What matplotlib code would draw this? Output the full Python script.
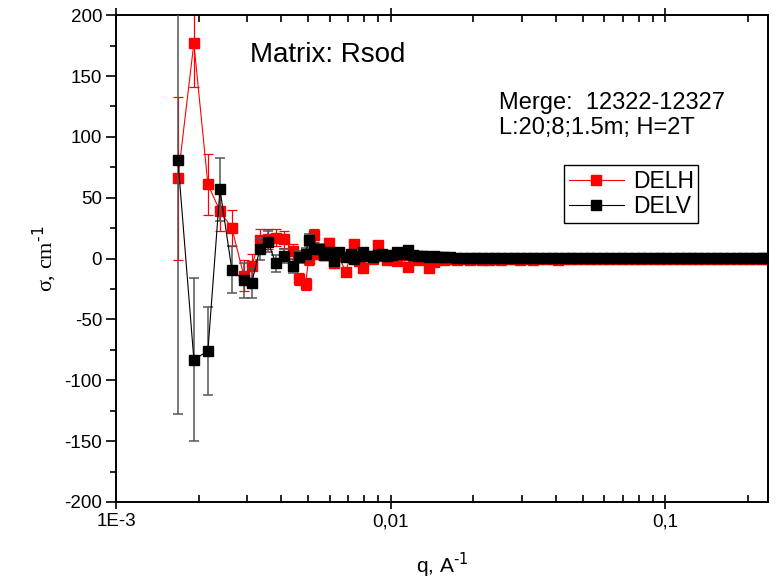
import numpy as np
import matplotlib
matplotlib.use("Agg")
import matplotlib.pyplot as plt
from matplotlib.lines import Line2D
from matplotlib.ticker import FixedLocator, FixedFormatter, MultipleLocator, LogLocator, NullFormatter

plt.rcParams['font.family'] = ['Liberation Sans', 'DejaVu Sans']
plt.rcParams['axes.unicode_minus'] = False

# q in 1/A
q = np.array([
    1.68, 1.92, 2.16, 2.39, 2.64, 2.92, 3.12, 3.34, 3.57, 3.82,
    4.08, 4.40, 4.65, 4.90, 5.03, 5.25, 5.47, 5.71, 5.95, 6.21,
    6.47, 6.86, 7.15, 7.33, 7.65, 7.91, 8.25, 8.60, 8.97, 9.27,
    9.67, 10.09, 10.52, 10.97, 11.53, 12.03, 12.54, 13.07, 13.74, 14.33,
    14.95, 15.71, 16.52, 17.4, 18.4, 19.4, 20.5, 21.6, 22.8, 24.0,
    25.3, 26.7, 28.2, 29.7, 31.3, 33.0, 34.8, 36.7, 38.7, 40.8,
    43.0, 45.4, 47.9, 50.5, 53.3, 56.2, 59.3, 62.5, 66.0, 69.6,
    73.4, 77.4, 81.7, 86.2, 90.9, 95.9, 101, 107, 113, 119,
    125, 132, 139, 147, 155, 163, 172, 182, 192, 202,
    213, 225, 231]) * 1e-3

delh = [66, 177, 61, 39, 25, -14, -6, 15, 16, 17,
        16, 6, -17, -21, 0, 19, 4, 3, 13, -4,
        2, -11, 3, 12, -2, -8, 2, 0, 11, 2,
        -1, 1, -2, 3, -7, 1, -1, 2, -8, -3,
        1, -1, 0, -1, -0.5, -1, -0.5, -1, -0.8, -0.6,
        -1, -0.7, -0.5, -0.8, -0.6, -0.9, -0.5, -0.7, -0.6, -0.8,
        -0.5, -0.7, -0.6, -0.5, -0.7, -0.6, -0.5, -0.6, -0.5, -0.6,
        -0.5, -0.6, -0.5, -0.5, -0.6, -0.5, -0.5, -0.6, -0.5, -0.5,
        -0.5, -0.5, -0.6, -0.5, -0.5, -0.5, -0.5, -0.5, -0.5, -0.5,
        -0.5, -0.5, -0.5]
delh_err = [67, 36, 25, 16, 15, 13, 10, 9, 8, 7,
            7, 6, 5, 5, 5, 5, 4, 4, 4, 4,
            3, 3, 3, 3, 3, 3, 3, 2, 2, 2,
            2, 2, 2, 2, 2, 2, 2, 2, 2, 2,
            1.5, 1.5, 1.5, 1.5, 1.5, 1.2, 1.2, 1.2, 1.2, 1.2,
            1, 1, 1, 1, 1, 1, 1, 1, 1, 1,
            1, 1, 1, 1, 1, 1, 1, 1, 1, 1,
            1, 1, 1, 1, 1, 1, 1, 1, 1, 1,
            1, 1, 1, 1, 1, 1, 1, 1, 1, 1,
            1, 1, 1]

delv = [81, -83, -76, 57, -9, -18, -20, 8, 14, -4,
        2, -6, 1, 4, 15, 8, 8, 3, 5, -2,
        5, 1, 4, 0, 2, 5, 2, 1, 3, 4,
        2, 3, 5, 4, 7, 3, 2, 2, 1, 2,
        1, 1, 1, 0.8, 0.6, 0.8, 0.5, 0.7, 0.6, 0.5,
        0.6, 0.5, 0.7, 0.5, 0.6, 0.5, 0.5, 0.6, 0.5, 0.4,
        0.5, 0.4, 0.5, 0.4, 0.5, 0.4, 0.4, 0.5, 0.4, 0.4,
        0.4, 0.4, 0.4, 0.4, 0.4, 0.4, 0.4, 0.4, 0.4, 0.4,
        0.4, 0.4, 0.4, 0.4, 0.4, 0.4, 0.4, 0.4, 0.4, 0.4,
        0.4, 0.4, 0.4]
delv_err = [209, 67, 36, 26, 19, 14, 12, 9, 9, 7,
            6, 6, 5, 5, 5, 5, 4, 4, 4, 4,
            3, 3, 3, 3, 3, 3, 3, 2, 2, 2,
            2, 2, 2, 2, 2, 2, 2, 2, 2, 2,
            1.5, 1.5, 1.5, 1.5, 1.5, 1.2, 1.2, 1.2, 1.2, 1.2,
            1, 1, 1, 1, 1, 1, 1, 1, 1, 1,
            1, 1, 1, 1, 1, 1, 1, 1, 1, 1,
            1, 1, 1, 1, 1, 1, 1, 1, 1, 1,
            1, 1, 1, 1, 1, 1, 1, 1, 1, 1,
            1, 1, 1]

xticks = [1e-3, 1e-2, 1e-1]
xtick_labels = ["1E-3", "0,01", "0,1"]

fig = plt.figure(figsize=(7.79, 5.83), dpi=100)
ax = fig.add_axes([0.149, 0.139, 0.837, 0.835])

ax.errorbar(q, delh, yerr=delh_err, fmt='s-', color='red', ecolor='red',
            markersize=7.5, linewidth=0.8, elinewidth=0.9, capsize=3.5,
            capthick=0.9, zorder=2)
ax.errorbar(q, delv, yerr=delv_err, fmt='s-', color='black', ecolor='#555555',
            markersize=7.5, linewidth=0.8, elinewidth=1.1, capsize=3.5,
            capthick=1.1, zorder=3)

ax.set_xscale('log')
ax.set_xlim(1e-3, 0.237)
ax.set_ylim(-200, 200)

ax.xaxis.set_major_locator(FixedLocator(xticks))
ax.xaxis.set_major_formatter(FixedFormatter(xtick_labels))
ax.xaxis.set_minor_locator(LogLocator(base=10, subs=np.arange(2, 10)))
ax.xaxis.set_minor_formatter(NullFormatter())
ax.yaxis.set_major_locator(MultipleLocator(50))
ax.yaxis.set_minor_locator(MultipleLocator(25))

ax.tick_params(axis='x', which='major', direction='inout', length=10, width=1.2,
               top=True, labelsize=13.5, pad=3)
ax.tick_params(axis='x', which='minor', direction='in', length=5, width=1.2, top=True)
ax.tick_params(axis='y', which='major', direction='out', length=7, width=1.2,
               labelsize=13.5, pad=3)
ax.tick_params(axis='y', which='minor', direction='out', length=4, width=1.2)
for s in ax.spines.values():
    s.set_linewidth(1.4)

ax.set_xlabel(r"q, A$^{\text{-1}}$", fontsize=15, labelpad=15)
ax.set_ylabel(r"σ, cm$^{\text{-1}}$", fontsize=16,
              family=['Liberation Serif', 'DejaVu Serif'], labelpad=4)

ax.text(0.205, 0.918, "Matrix: Rsod", transform=ax.transAxes, fontsize=20,
        va='center', ha='left')
ax.text(0.588, 0.819, "Merge:  12322-12327", transform=ax.transAxes, fontsize=17,
        va='center', ha='left')
ax.text(0.588, 0.768, "L:20;8;1.5m; H=2T", transform=ax.transAxes, fontsize=17,
        va='center', ha='left')

handles = [Line2D([], [], color='red', marker='s', markersize=7.5, linewidth=0.8),
           Line2D([], [], color='black', marker='s', markersize=7.5, linewidth=0.8)]
leg = ax.legend(handles, ['DELH', 'DELV'], loc='upper right',
                bbox_to_anchor=(0.893, 0.692), fontsize=16.5,
                frameon=True, fancybox=False, edgecolor='black', handlelength=2.4,
                borderpad=0.2, labelspacing=0.1, handletextpad=0.4,
                borderaxespad=0, framealpha=1)
leg.get_frame().set_linewidth(1.0)

fig.savefig("out.png", dpi=100)
